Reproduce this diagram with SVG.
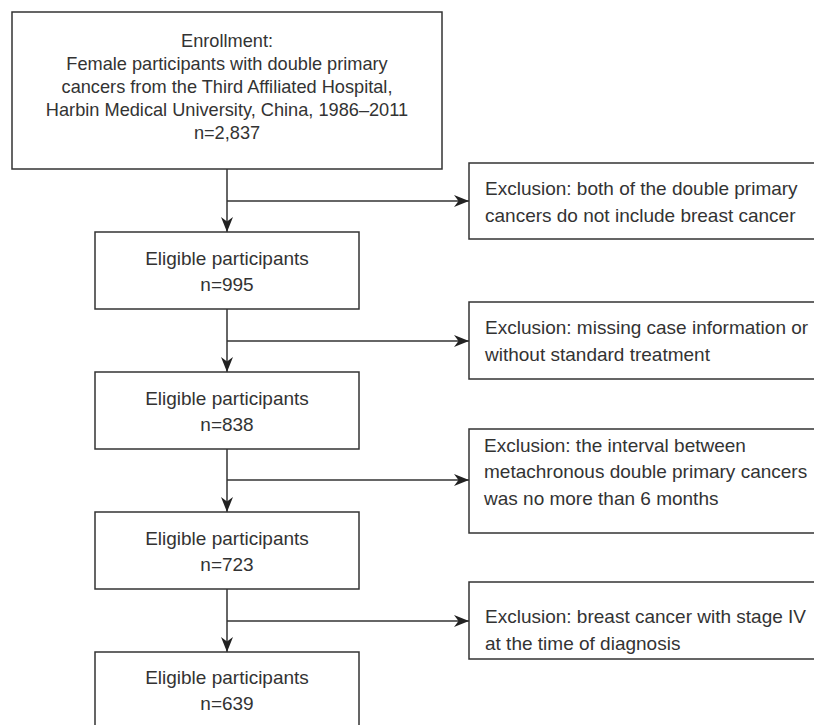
<svg xmlns="http://www.w3.org/2000/svg" width="814" height="725" viewBox="0 0 814 725">
<style>
.box{fill:#fff;stroke:#333;stroke-width:1.5}
.t{font-family:"Liberation Sans",Arial,sans-serif;font-size:19px;fill:#333}
.s{font-size:18.2px}
.c{text-anchor:middle}
.ln{stroke:#333;stroke-width:1.5;fill:none}
</style>
<defs>
<marker id="arr" viewBox="0 0 15 12" refX="15" refY="6" markerWidth="15" markerHeight="12" markerUnits="userSpaceOnUse" orient="auto"><path d="M0,0 L15,6 L0,12 L4.5,6 Z" fill="#222"/></marker>
</defs>
<rect width="814" height="725" fill="#fff"/>
<g id="connectors">
<line class="ln" x1="227" y1="169" x2="227" y2="232" marker-end="url(#arr)"/>
<line class="ln" x1="227" y1="201" x2="469" y2="201" marker-end="url(#arr)"/>
<line class="ln" x1="227" y1="309" x2="227" y2="372" marker-end="url(#arr)"/>
<line class="ln" x1="227" y1="341" x2="469" y2="341" marker-end="url(#arr)"/>
<line class="ln" x1="227" y1="449" x2="227" y2="512" marker-end="url(#arr)"/>
<line class="ln" x1="227" y1="480" x2="469" y2="480" marker-end="url(#arr)"/>
<line class="ln" x1="227" y1="589" x2="227" y2="652" marker-end="url(#arr)"/>
<line class="ln" x1="227" y1="621" x2="469" y2="621" marker-end="url(#arr)"/>
</g>
<g id="enrollment">
<rect class="box" x="12" y="12" width="430" height="157"/>
<text class="t s c" x="227" y="46.5">Enrollment:</text>
<text class="t s c" x="227" y="69.7">Female participants with double primary</text>
<text class="t s c" x="227" y="92.9">cancers from the Third Affiliated Hospital,</text>
<text class="t s c" x="227" y="116.1">Harbin Medical University, China, 1986–2011</text>
<text class="t s c" x="227" y="139.3">n=2,837</text>
</g>
<g id="excl1">
<rect class="box" x="469" y="163" width="350" height="76"/>
<text class="t" x="485" y="195">Exclusion: both of the double primary</text>
<text class="t" x="485" y="221.5">cancers do not include breast cancer</text>
</g>
<g id="elig995">
<rect class="box" x="95" y="232" width="264" height="77"/>
<text class="t c" x="227" y="264.5">Eligible participants</text>
<text class="t c" x="227" y="291">n=995</text>
</g>
<g id="excl2">
<rect class="box" x="469" y="302" width="350" height="77"/>
<text class="t" x="485" y="334">Exclusion: missing case information or</text>
<text class="t" x="485" y="360.5">without standard treatment</text>
</g>
<g id="elig838">
<rect class="box" x="95" y="372" width="264" height="77"/>
<text class="t c" x="227" y="404.5">Eligible participants</text>
<text class="t c" x="227" y="431">n=838</text>
</g>
<g id="excl3">
<rect class="box" x="469" y="429" width="350" height="104"/>
<text class="t" x="484" y="451.5">Exclusion: the interval between</text>
<text class="t" x="484" y="478">metachronous double primary cancers</text>
<text class="t" x="484" y="504.5">was no more than 6 months</text>
</g>
<g id="elig723">
<rect class="box" x="95" y="512" width="264" height="77"/>
<text class="t c" x="227" y="544.5">Eligible participants</text>
<text class="t c" x="227" y="571">n=723</text>
</g>
<g id="excl4">
<rect class="box" x="469" y="582" width="350" height="77"/>
<text class="t" x="485" y="623">Exclusion: breast cancer with stage IV</text>
<text class="t" x="485" y="649.5">at the time of diagnosis</text>
</g>
<g id="elig639">
<rect class="box" x="95" y="652" width="264" height="80"/>
<text class="t c" x="227" y="684">Eligible participants</text>
<text class="t c" x="227" y="710">n=639</text>
</g>
</svg>
